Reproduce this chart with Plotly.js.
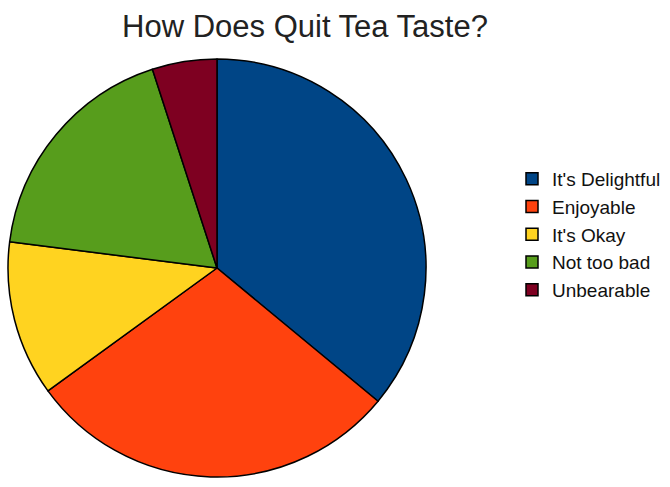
<!DOCTYPE html>
<html>
<head>
<meta charset="utf-8">
<script src="https://cdn.plot.ly/plotly-3.0.1.min.js"></script>
<style>html,body{margin:0;padding:0;background:#fff;}#chart{width:670px;height:487px;}</style>
</head>
<body>
<div id="chart"></div>
<script>
const categories = ["It's Delightful", "Enjoyable", "It's Okay", "Not too bad", "Unbearable"];
const values = [36, 29, 12, 18, 5];
const colors = ["#004586", "#ff420e", "#ffd320", "#579d1c", "#7e0021"];

const W = 670, H = 487;
const cx = 217, cy = 268, r = 209;

const trace = {
  type: 'pie',
  labels: categories,
  values: values,
  sort: false,
  direction: 'clockwise',
  rotation: 0,
  textinfo: 'none',
  hoverinfo: 'label+value',
  marker: {colors: colors, line: {color: '#000', width: 1.5}},
  domain: {
    x: [(cx - r) / W, (cx + r) / W],
    y: [(H - cy - r) / H, (H - cy + r) / H]
  }
};

const layout = {
  width: W, height: H,
  margin: {l: 0, r: 0, t: 0, b: 0},
  paper_bgcolor: '#fff',
  title: {
    text: 'How Does Quit Tea Taste?',
    font: {family: 'Liberation Sans, Arial, sans-serif', size: 31, color: '#222'},
    x: 305 / W, xanchor: 'center', xref: 'paper',
    y: 1 - 26 / H, yanchor: 'middle', yref: 'container'
  },
  showlegend: true,
  legend: {
    x: 512 / W, xanchor: 'left',
    y: 1 - 160 / H, yanchor: 'top',
    bgcolor: 'rgba(0,0,0,0)',
    font: {family: 'Liberation Sans, Arial, sans-serif', size: 19, color: '#111'},
    traceorder: 'normal',
    itemwidth: 30
  }
};

Plotly.newPlot('chart', [trace], layout, {displayModeBar: false, staticPlot: true});
</script>
</body>
</html>
